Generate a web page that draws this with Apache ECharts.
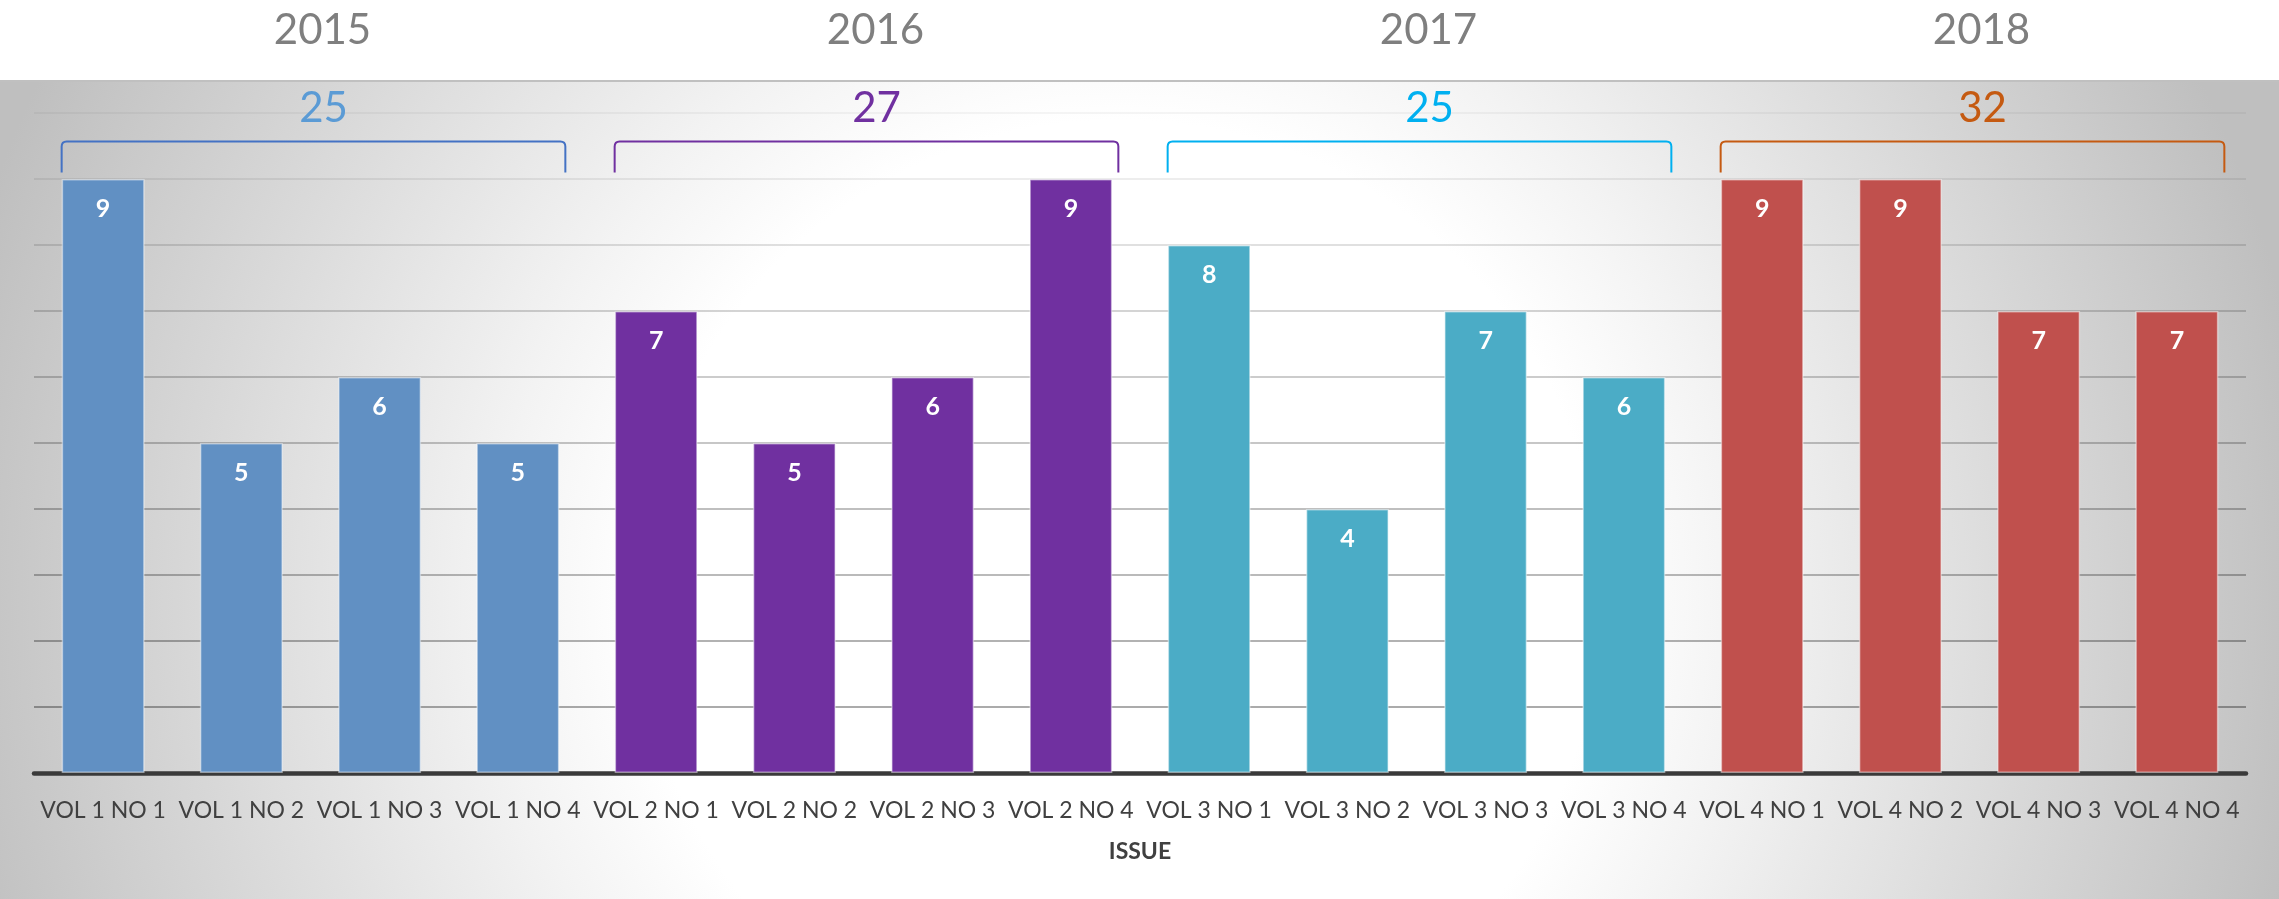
<!DOCTYPE html>
<html>
<head>
<meta charset="utf-8">
<script src="https://cdn.jsdelivr.net/npm/echarts@6/dist/echarts.min.js"></script>
<style>
  html, body { margin: 0; padding: 0; background: #fff; }
  #chart { width: 2279px; height: 899px; }
</style>
</head>
<body>
<div id="chart"></div>
<script>
  // data
  const issues = ['VOL 1 NO 1', 'VOL 1 NO 2', 'VOL 1 NO 3', 'VOL 1 NO 4',
                  'VOL 2 NO 1', 'VOL 2 NO 2', 'VOL 2 NO 3', 'VOL 2 NO 4',
                  'VOL 3 NO 1', 'VOL 3 NO 2', 'VOL 3 NO 3', 'VOL 3 NO 4',
                  'VOL 4 NO 1', 'VOL 4 NO 2', 'VOL 4 NO 3', 'VOL 4 NO 4'];
  const counts = [9, 5, 6, 5, 7, 5, 6, 9, 8, 4, 7, 6, 9, 9, 7, 7];
  const years = ['2015', '2016', '2017', '2018'];

  // styles
  const barColors = ['#6190c3', '#7030a0', '#4bacc6', '#c0504d'];
  const bracketColors = ['#4472c4', '#7030a0', '#00b0f0', '#c55a11'];
  const totalColors = ['#5b9bd5', '#7030a0', '#00b0f0', '#c55a11'];
  const gridAlpha = [0.33, 0.33, 0.3, 0.27, 0.25, 0.22, 0.2, 0.17, 0.12, 0.07, 0.04];

  const groupSize = counts.length / years.length;

  // one entry per year: first index, last index, total
  let groups = [];
  for (let g = 0; g < years.length; g++) {
    let start = g * groupSize;
    let end = start + groupSize - 1;
    let total = 0;
    for (let i = start; i <= end; i++) total += counts[i];
    groups.push([start, end, total, g]);
  }

  let myChart = echarts.init(document.getElementById('chart'));

  let option = {
    animation: false,
    textStyle: { fontFamily: 'Lato' },
    graphic: [
      {
        type: 'rect',
        z: -10,
        silent: true,
        shape: { x: 0, y: 80, width: 2279, height: 819 },
        style: {
          fill: new echarts.graphic.RadialGradient(1120, 600, 1200, [
            { offset: 0, color: '#ffffff' },
            { offset: 0.4, color: '#ffffff' },
            { offset: 0.52, color: '#f3f3f3' },
            { offset: 0.75, color: '#dadada' },
            { offset: 1, color: '#bfbfbf' }
          ], true)
        }
      },
      {
        type: 'line',
        z: -9,
        silent: true,
        shape: { x1: 0, y1: 81, x2: 2279, y2: 81 },
        style: { stroke: '#c0c0c0', lineWidth: 2 }
      }
    ],
    grid: { left: 34, right: 33, top: 113, bottom: 126 },
    xAxis: [
      {
        type: 'category',
        data: issues,
        name: 'ISSUE',
        nameLocation: 'middle',
        nameGap: 67,
        nameTextStyle: { fontSize: 23, fontWeight: 'bold', color: '#404040' },
        axisLine: { lineStyle: { color: '#3a3a3a', width: 4.5 } },
        axisTick: { show: false },
        axisLabel: { interval: 0, fontSize: 23, color: '#404040', margin: 26 }
      },
      {
        type: 'category',
        data: years,
        position: 'top',
        axisLine: { show: false },
        axisTick: { show: false },
        axisLabel: { fontSize: 42, color: '#7f7f7f', margin: 62, padding: [0, 0, 0, 24] }
      }
    ],
    yAxis: {
      type: 'value',
      min: 0,
      max: 10,
      interval: 1,
      axisLabel: { show: false },
      axisLine: { show: false },
      axisTick: { show: false },
      splitLine: {
        lineStyle: {
          width: 2,
          color: gridAlpha.map(a => 'rgba(0,0,0,' + a + ')')
        }
      }
    },
    series: [
      {
        type: 'bar',
        data: counts,
        barCategoryGap: '40%',
        itemStyle: {
          color: p => barColors[Math.floor(p.dataIndex / groupSize)],
          borderColor: 'rgba(255,255,255,0.45)',
          borderWidth: 1.5
        },
        label: {
          show: true,
          position: 'insideTop',
          distance: 17,
          color: '#fff',
          fontSize: 25,
          fontWeight: 'bold'
        }
      },
      {
        type: 'custom',
        data: groups,
        silent: true,
        renderItem: function (params, api) {
          let start = api.value(0);
          let end = api.value(1);
          let total = api.value(2);
          let g = api.value(3);
          let half = api.size([1, 0])[0] * 0.3;
          let pTop = api.coord([start, 9.57]);
          let pBot = api.coord([start, 9.1]);
          let x0 = pTop[0] - half;
          let x1 = api.coord([end, 9.57])[0] + half + 6;
          let yt = pTop[1];
          let yb = pBot[1];
          let r = 5;
          let path = 'M' + x0 + ' ' + yb + ' L' + x0 + ' ' + (yt + r) +
            ' Q' + x0 + ' ' + yt + ' ' + (x0 + r) + ' ' + yt +
            ' L' + (x1 - r) + ' ' + yt +
            ' Q' + x1 + ' ' + yt + ' ' + x1 + ' ' + (yt + r) +
            ' L' + x1 + ' ' + yb;
          return {
            type: 'group',
            children: [
              {
                type: 'path',
                shape: { pathData: path },
                style: { fill: null, stroke: bracketColors[g], lineWidth: 2 }
              },
              {
                type: 'text',
                x: (x0 + x1) / 2 + 10,
                y: yt - 33,
                style: {
                  text: String(total),
                  fill: totalColors[g],
                  fontSize: 42,
                  fontFamily: 'Lato',
                  align: 'center',
                  verticalAlign: 'middle'
                }
              }
            ]
          };
        }
      }
    ]
  };

  myChart.setOption(option);
  window.addEventListener('resize', () => { myChart.resize(); });
</script>
</body>
</html>
